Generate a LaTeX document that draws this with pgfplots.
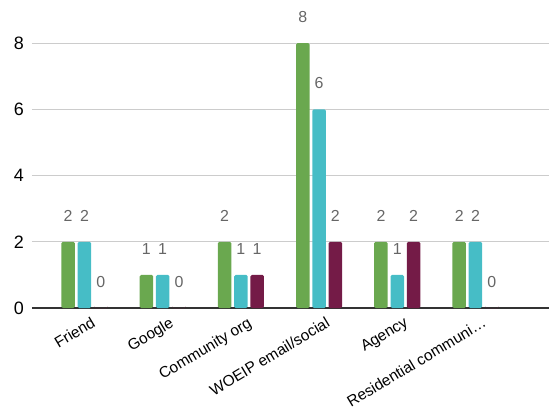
\documentclass[border=0pt]{standalone}
\usepackage{pgfplots}
\pgfplotsset{compat=1.18}
\usepackage{fontspec}
\setmainfont{Liberation Sans}
\definecolor{cgreen}{HTML}{6AA84F}
\definecolor{ccyan}{HTML}{46BDC6}
\definecolor{cmaroon}{HTML}{741B47}
\definecolor{lblgray}{HTML}{666666}
\definecolor{gridgray}{HTML}{CCCCCC}
\begin{document}
\begin{tikzpicture}
\begin{axis}[
  scale only axis, width=517bp, height=265bp,
  xmin=-0.671, xmax=5.94, ymin=0, ymax=8,
  ybar=2.8bp, bar width=13.5bp,
  clip=false,
  axis line style={draw=none},
  major tick length=0pt,
  xtick={0,1,2,3,4,5},
  xticklabels={Friend,Google,Community org,WOEIP email/social,Agency,Residential communi…},
  xticklabel style={rotate=31, anchor=north east, font=\fontsize{15.5}{15.5}\selectfont, inner sep=0pt, xshift=1bp, yshift=-10bp},
  ytick={0,2,4,6,8},
  yticklabel style={font=\fontsize{18}{18}\selectfont, anchor=east, inner sep=0pt, xshift=-8bp},
  /pgf/number format/assume math mode=true,
  ymajorgrids, grid style={gridgray, line width=0.8bp},
  extra y ticks={0}, extra y tick labels={},
  extra y tick style={grid style={black!80, line width=1.2bp}},
  nodes near coords,
  every node near coord/.append style={font=\fontsize{16}{16}\selectfont, text=lblgray, anchor=center, yshift=26bp},
]
\addplot[fill=cgreen, draw=none, rounded corners=1.5bp] coordinates {(0,2) (1,1) (2,2) (3,8) (4,2) (5,2)};
\addplot[fill=ccyan, draw=none, rounded corners=1.5bp] coordinates {(0,2) (1,1) (2,1) (3,6) (4,1) (5,2)};
\addplot[fill=cmaroon, draw=none, rounded corners=1.5bp] coordinates {(0,0) (1,0) (2,1) (3,2) (4,2) (5,0)};
\end{axis}
\pgfresetboundingbox
\path (-32bp,-106bp) rectangle (517bp,308bp);
\end{tikzpicture}
\end{document}
